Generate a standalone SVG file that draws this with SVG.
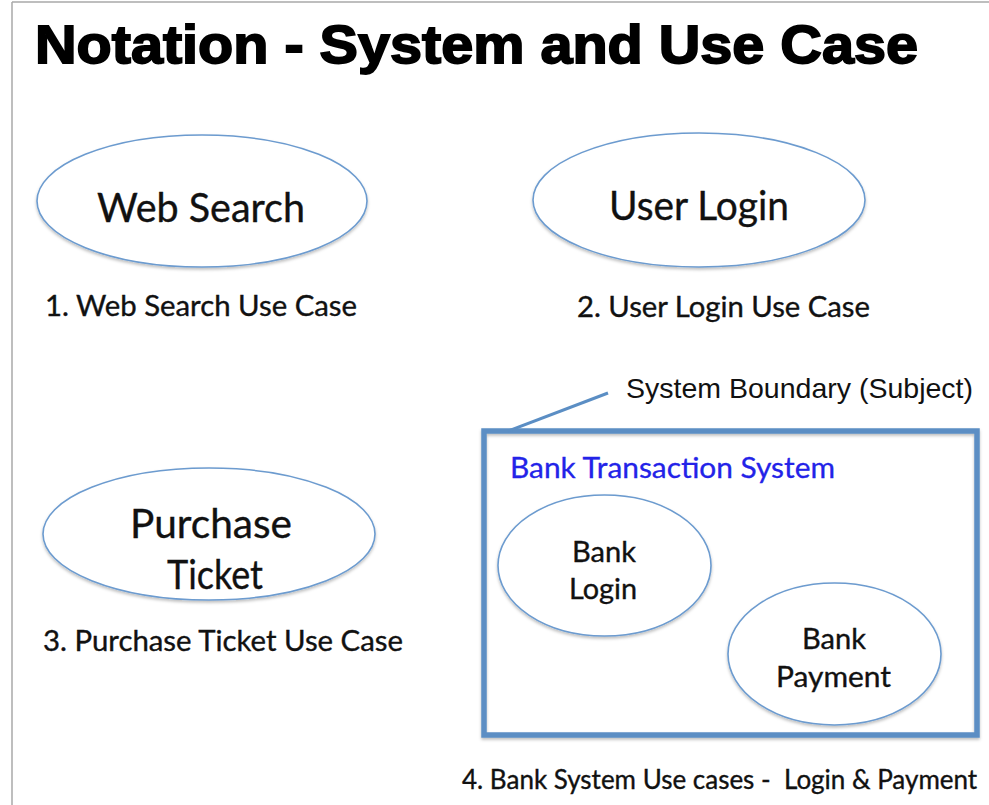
<svg xmlns="http://www.w3.org/2000/svg" width="989" height="805" viewBox="0 0 989 805">
<defs>
<style>
.uc{fill:#fff;stroke:#6c9bcf;stroke-width:1.6}
.t{font-family:Lato,"Open Sans","DejaVu Sans",sans-serif;fill:#111;stroke:#111;stroke-width:0.35}
.big{font-size:40px}
.mid{font-size:28px}
.cap{font-size:28px}
.ar{font-family:"Liberation Sans",Arial,sans-serif;fill:#111}
</style>
<filter id="sh" x="-5%" y="-5%" width="110%" height="115%">
<feDropShadow dx="0" dy="2" stdDeviation="1.5" flood-color="#000" flood-opacity="0.25"/>
</filter>
</defs>
<rect x="0" y="0" width="989" height="805" fill="#fff"/>
<g id="frame">
<line x1="12" y1="2" x2="989" y2="2" stroke="#a8a8a8" stroke-width="1.5"/>
<line x1="12" y1="2" x2="12" y2="805" stroke="#a8a8a8" stroke-width="1.5"/>
</g>
<g id="title">
<text x="35" y="63" font-family="'Liberation Sans',Arial,sans-serif" font-weight="bold" font-size="54" fill="#000" stroke="#000" stroke-width="1.8" textLength="883" lengthAdjust="spacingAndGlyphs">Notation - System and Use Case</text>
</g>
<g id="web-search">
<ellipse class="uc" cx="202" cy="201" rx="165" ry="66" filter="url(#sh)"/>
<text class="t big" x="97" y="222" textLength="208" lengthAdjust="spacingAndGlyphs">Web Search</text>
<text class="t cap" x="45" y="316" textLength="312" lengthAdjust="spacingAndGlyphs">1. Web Search Use Case</text>
</g>
<g id="user-login">
<ellipse class="uc" cx="699" cy="200" rx="166" ry="67" filter="url(#sh)"/>
<text class="t big" x="609" y="220" textLength="180" lengthAdjust="spacingAndGlyphs">User Login</text>
<text class="t cap" x="577" y="317" textLength="293" lengthAdjust="spacingAndGlyphs">2. User Login Use Case</text>
</g>
<g id="purchase-ticket">
<ellipse class="uc" cx="209" cy="534" rx="166" ry="66" filter="url(#sh)"/>
<text class="t big" x="130" y="538" textLength="162" lengthAdjust="spacingAndGlyphs">Purchase</text>
<text class="t big" x="167" y="589" textLength="96" lengthAdjust="spacingAndGlyphs">Ticket</text>
<text class="t cap" x="43" y="651" textLength="360" lengthAdjust="spacingAndGlyphs">3. Purchase Ticket Use Case</text>
</g>
<g id="boundary-label">
<text class="ar" x="626" y="398" font-size="28" textLength="347" lengthAdjust="spacingAndGlyphs">System Boundary (Subject)</text>
</g>
<g id="bank-system">
<rect x="484" y="431" width="493" height="304" fill="none" stroke="#5b8ec4" stroke-width="5.5" filter="url(#sh)"/>
<text class="t mid" x="510" y="478" style="fill:#2323e8;stroke:#2323e8;stroke-width:0.3" textLength="325" lengthAdjust="spacingAndGlyphs">Bank Transaction System</text>
<text class="t" x="462" y="789" font-size="26" style="white-space:pre">4. Bank System Use cases -  Login &amp; Payment</text>
</g>
<g id="bank-login">
<ellipse class="uc" cx="604.5" cy="565.5" rx="106.5" ry="70.5" filter="url(#sh)"/>
<text class="t mid" x="572" y="562" textLength="64" lengthAdjust="spacingAndGlyphs">Bank</text>
<text class="t mid" x="569" y="599" textLength="68" lengthAdjust="spacingAndGlyphs">Login</text>
</g>
<g id="bank-payment">
<ellipse class="uc" cx="834.5" cy="654" rx="106.5" ry="71" filter="url(#sh)"/>
<text class="t mid" x="802" y="649" textLength="64" lengthAdjust="spacingAndGlyphs">Bank</text>
<text class="t mid" x="776" y="687" textLength="115" lengthAdjust="spacingAndGlyphs">Payment</text>
</g>
<g id="connectors">
<line x1="508" y1="431" x2="608" y2="393" stroke="#5b8ec4" stroke-width="3"/>
</g>
</svg>
